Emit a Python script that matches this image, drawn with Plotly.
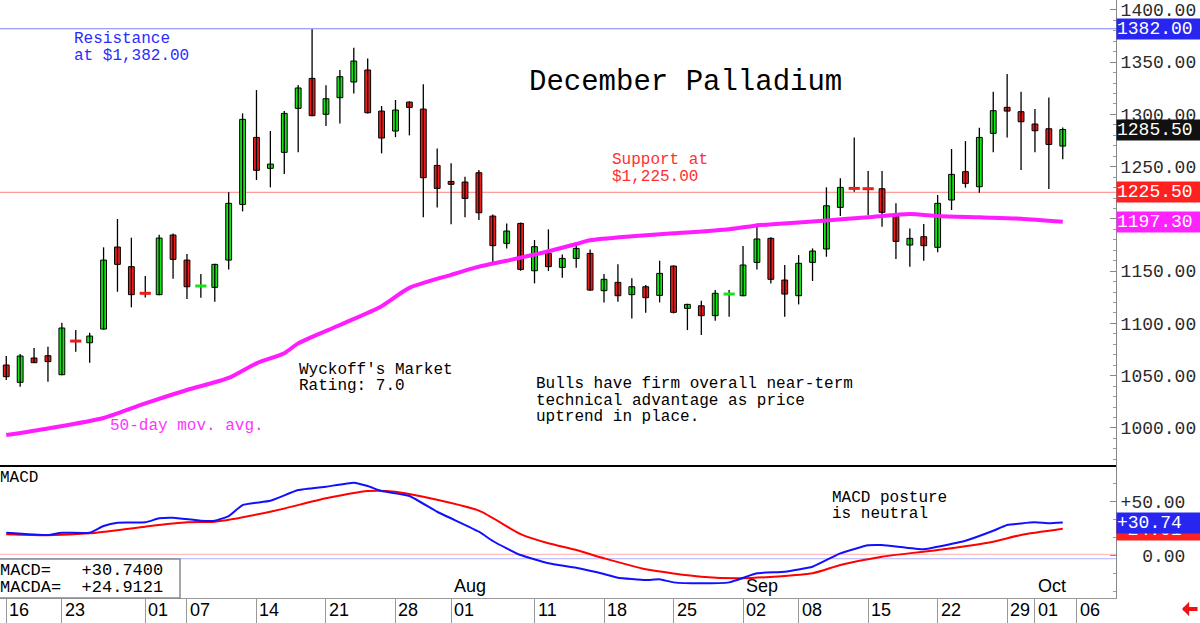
import plotly.graph_objects as go

# ---------------- data ----------------
dates = [
    "2025-06-16", "2025-06-17", "2025-06-18", "2025-06-20", "2025-06-23", "2025-06-24", "2025-06-25",
    "2025-06-26", "2025-06-27", "2025-06-30", "2025-07-01", "2025-07-02", "2025-07-03", "2025-07-07",
    "2025-07-08", "2025-07-09", "2025-07-10", "2025-07-11", "2025-07-14", "2025-07-15", "2025-07-16",
    "2025-07-17", "2025-07-18", "2025-07-21", "2025-07-22", "2025-07-23", "2025-07-24", "2025-07-25",
    "2025-07-28", "2025-07-29", "2025-07-30", "2025-07-31", "2025-08-01", "2025-08-04", "2025-08-05",
    "2025-08-06", "2025-08-07", "2025-08-08", "2025-08-11", "2025-08-12", "2025-08-13", "2025-08-14",
    "2025-08-15", "2025-08-18", "2025-08-19", "2025-08-20", "2025-08-21", "2025-08-22", "2025-08-25",
    "2025-08-26", "2025-08-27", "2025-08-28", "2025-08-29", "2025-09-02", "2025-09-03", "2025-09-04",
    "2025-09-05", "2025-09-08", "2025-09-09", "2025-09-10", "2025-09-11", "2025-09-12", "2025-09-15",
    "2025-09-16", "2025-09-17", "2025-09-18", "2025-09-19", "2025-09-22", "2025-09-23", "2025-09-24",
    "2025-09-25", "2025-09-26", "2025-09-29", "2025-09-30", "2025-10-01", "2025-10-02", "2025-10-03",
]
future_dates = ["2025-10-06"]

opens = [1060.2, 1043.6, 1066.9, 1069.1, 1050.9, 1083.1, 1081.5, 1094.6, 1173.1, 1154.3,
         1128.8, 1127.5, 1184.6, 1160.6, 1135.8, 1134.5, 1160.6, 1213.9, 1278.0, 1248.4,
         1263.7, 1305.8, 1334.5, 1300.1, 1316.0, 1331.0, 1342.5, 1303.2, 1284.1, 1311.8,
         1305.1, 1251.2, 1235.9, 1235.3, 1244.2, 1202.7, 1176.6, 1195.7, 1150.4, 1167.0,
         1153.6, 1162.2, 1167.0, 1131.3, 1139.3, 1127.5, 1135.1, 1126.8, 1154.9, 1114.4,
         1116.9, 1107.4, 1128.1, 1126.5, 1158.4, 1181.4, 1141.5, 1126.5, 1158.4, 1171.2,
         1211.0, 1229.2, 1228.9, 1228.9, 1202.7, 1175.0, 1183.0, 1172.8, 1218.1, 1245.2,
         1230.8, 1281.9, 1306.8, 1302.6, 1290.8, 1286.3, 1269.7]
highs = [1068.8, 1070.7, 1076.4, 1077.7, 1100.7, 1093.7, 1091.1, 1172.8, 1199.9, 1182.0,
         1145.3, 1184.9, 1186.0, 1166.4, 1147.2, 1157.0, 1225.4, 1301.0, 1323.3, 1284.1,
         1303.2, 1328.1, 1381.4, 1327.8, 1342.5, 1363.9, 1353.6, 1308.0, 1313.8, 1312.5,
         1328.8, 1267.5, 1253.2, 1240.4, 1246.8, 1204.3, 1195.7, 1196.5, 1179.8, 1190.0,
         1166.0, 1175.0, 1170.8, 1147.3, 1156.5, 1143.1, 1136.7, 1160.0, 1155.5, 1118.8,
         1121.7, 1131.9, 1131.9, 1174.0, 1195.7, 1182.4, 1155.9, 1165.4, 1171.8, 1230.2,
         1238.8, 1278.0, 1245.8, 1245.8, 1214.9, 1190.9, 1195.1, 1222.8, 1266.9, 1274.5,
         1287.3, 1321.7, 1338.6, 1321.7, 1305.1, 1316.3, 1287.6]
lows = [1045.8, 1039.4, 1062.0, 1044.2, 1050.5, 1072.9, 1062.4, 1094.2, 1130.3, 1115.4,
        1124.9, 1127.0, 1142.8, 1123.3, 1124.6, 1120.8, 1151.7, 1207.2, 1237.2, 1230.2,
        1243.0, 1263.7, 1298.3, 1288.9, 1291.4, 1320.1, 1301.0, 1262.7, 1278.3, 1279.9,
        1201.5, 1211.0, 1194.8, 1201.5, 1198.9, 1157.5, 1171.8, 1150.4, 1138.3, 1150.1,
        1143.8, 1153.3, 1131.3, 1120.1, 1120.8, 1104.8, 1110.2, 1120.1, 1109.6, 1093.6,
        1088.9, 1102.6, 1106.4, 1126.0, 1151.7, 1138.3, 1106.4, 1118.2, 1140.6, 1163.8,
        1202.7, 1226.0, 1203.7, 1192.5, 1161.6, 1154.3, 1160.0, 1168.0, 1208.5, 1229.9,
        1225.1, 1263.7, 1278.0, 1246.8, 1263.7, 1228.6, 1257.0]
closes = [1049.0, 1068.8, 1062.4, 1063.4, 1095.6, 1083.1, 1087.9, 1160.6, 1156.5, 1127.5,
          1128.8, 1181.7, 1161.3, 1135.1, 1135.8, 1156.5, 1214.9, 1295.3, 1246.5, 1252.5,
          1301.0, 1325.3, 1298.8, 1315.0, 1336.1, 1351.1, 1301.6, 1277.4, 1304.2, 1306.7,
          1239.4, 1229.2, 1233.1, 1219.6, 1205.9, 1174.4, 1188.4, 1151.7, 1173.4, 1154.3,
          1162.2, 1171.8, 1131.9, 1142.2, 1126.5, 1135.1, 1124.6, 1147.9, 1110.6, 1118.2,
          1107.4, 1128.8, 1128.1, 1155.9, 1180.8, 1142.2, 1128.1, 1157.5, 1169.3, 1212.6,
          1230.2, 1229.2, 1228.9, 1206.3, 1178.5, 1181.4, 1174.4, 1214.9, 1242.6, 1234.0,
          1278.0, 1303.6, 1303.2, 1293.0, 1284.4, 1271.3, 1285.5]
# colour of the flat (doji) sessions: True = up day
doji_up = {5: False, 10: False, 14: True, 52: True, 61: False, 62: False}

# 50-day moving average, read at selected sessions (index into dates)
ma_idx = [0, 3, 7, 10, 13, 16, 18, 20, 21, 24, 27, 29, 32, 34, 36, 39, 41, 42, 45, 48,
          52, 54, 57, 59, 62, 65, 67, 70, 73, 76]
ma_val = [993.2, 999.5, 1009.5, 1023.5, 1036.3, 1047.8, 1061.8, 1071.5, 1080.9, 1098.5,
          1116.5, 1134.0, 1146.5, 1154.3, 1160.0, 1169.0, 1176.0, 1179.5, 1183.3, 1186.2,
          1190.2, 1193.8, 1196.6, 1198.5, 1201.6, 1204.7, 1202.8, 1201.5, 1200.2, 1197.3]

# MACD (blue) and its average (red), read at selected sessions
macd_idx = [0, 3, 4, 6, 7, 8, 10, 11, 12, 14, 15, 16, 17, 19, 21, 23, 25, 26, 27, 29,
            31, 34, 35, 36, 37, 39, 41, 43, 44, 46, 47, 48, 50, 52, 54, 56, 58, 60, 62, 63,
            66, 67, 69, 71, 72, 74, 75, 76]
macd_val = [21.3, 19.2, 21.3, 21.3, 27.5, 30.6, 30.9, 34.6, 35.2, 32.4, 32.4, 36.7, 46.9,
            50.9, 60.8, 63.9, 67.6, 64.5, 59.9, 55.3, 40.7, 22.2, 13.6, 6.8, 0.6, -7.0,
            -11.1, -16.9, -20.4, -22.5, -21.9, -24.7, -25.6, -24.7, -16.3, -14.8, -10.2,
            2.2, 9.6, 9.9, 5.9, 8.3, 13.9, 23.1, 28.4, 30.9, 30.0, 30.74]
sig_idx = [0, 3, 6, 10, 13, 15, 19, 23, 26, 28, 30, 34, 37, 39, 41, 43, 46, 50, 53, 58,
           60, 63, 67, 71, 73, 76]
sig_val = [19.8, 18.9, 20.7, 26.9, 30.9, 31.5, 40.7, 53.1, 59.9, 59.3, 54.6, 41.7, 20.0,
           11.5, 5.3, -2.4, -12.6, -19.4, -20.9, -16.3, -8.6, -0.9, 5.3, 13.0, 19.2, 24.91]

RESISTANCE = 1382.00
SUPPORT = 1225.50
LAST_CLOSE = 1285.50
MA_LAST = 1197.30
MACD_LAST = 30.7400
MACDA_LAST = 24.9121
MACD_REF_LINES = [1.3, -2.8]

price_ticks = [1000, 1050, 1100, 1150, 1200, 1250, 1300, 1350, 1400]
# 1200.00 sits completely under the moving-average price box in the reference
price_tick_text = ["1000.00", "1050.00", "1100.00", "1150.00", "", "1250.00", "1300.00",
                   "1350.00", "1400.00"]
macd_ticks = [0, 50]
macd_tick_text = ["\u00a0\u00a00.00", "+50.00"]
date_tick_dates = ["2025-06-16", "2025-06-23", "2025-07-01", "2025-07-07", "2025-07-14",
                   "2025-07-21", "2025-07-28", "2025-08-01", "2025-08-11", "2025-08-18",
                   "2025-08-25", "2025-09-02", "2025-09-08", "2025-09-15", "2025-09-22",
                   "2025-09-29", "2025-10-01", "2025-10-06"]
date_tick_text = ["16", "23", "01", "07", "14", "21", "28", "01", "11", "18", "25", "02",
                  "08", "15", "22", "29", "01", "06"]
month_dates = ["2025-08-01", "2025-09-02", "2025-10-01"]
month_text = ["Aug", "Sep", "Oct"]

# ---------------- figure ----------------
W, H = 1200, 623
MONO = "Liberation Mono"
SANS = "Liberation Sans"
GREEN = "#14e614"
RED = "#ec1c1c"
all_dates = dates + future_dates


def pos(d):
    return all_dates.index(d)


def PX(x):
    return x / W


def PY(y):
    return 1 - y / H


X_DOM = [0, PX(1116)]
Y_MAIN = [PY(466), 1]
Y_MACD = [PY(598), PY(466)]
X_RANGE = [-0.45, 79.83]

idx = list(range(len(dates)))
fig = go.Figure()

# wicks
wx, wy = [], []
for i in idx:
    wx += [i, i, None]
    wy += [lows[i], highs[i], None]
fig.add_trace(go.Scatter(x=wx, y=wy, mode="lines", line=dict(color="black", width=1.3),
                         hoverinfo="skip", showlegend=False, xaxis="x", yaxis="y"))

# bodies
bx, bh, bb, bc = [], [], [], []
for i in idx:
    if i in doji_up:
        continue
    o, c = opens[i], closes[i]
    bx.append(i)
    bh.append(abs(c - o))
    bb.append(min(o, c))
    bc.append(GREEN if c >= o else RED)
fig.add_trace(go.Bar(x=bx, y=bh, base=bb, width=0.42, marker=dict(color=bc, line=dict(color="black", width=1)),
                     hoverinfo="skip", showlegend=False, xaxis="x", yaxis="y"))

# dojis
dx = list(doji_up.keys())
fig.add_trace(go.Scatter(x=dx, y=[closes[i] for i in dx], mode="markers",
                         marker=dict(symbol="line-ew", size=8,
                                     line=dict(width=3, color=[GREEN if doji_up[i] else RED for i in dx])),
                         hoverinfo="skip", showlegend=False, xaxis="x", yaxis="y"))

# moving average
fig.add_trace(go.Scatter(x=ma_idx, y=ma_val, mode="lines",
                         line=dict(color="#ff1cff", width=4, shape="spline", smoothing=0.7),
                         hoverinfo="skip", showlegend=False, xaxis="x", yaxis="y"))

# MACD panel
fig.add_trace(go.Scatter(x=sig_idx, y=sig_val, mode="lines",
                         line=dict(color="#ff0000", width=2, shape="spline", smoothing=0.6),
                         hoverinfo="skip", showlegend=False, xaxis="x2", yaxis="y2"))
fig.add_trace(go.Scatter(x=macd_idx, y=macd_val, mode="lines",
                         line=dict(color="#1010ff", width=2, shape="spline", smoothing=0.4),
                         hoverinfo="skip", showlegend=False, xaxis="x2", yaxis="y2"))

shapes = []
# resistance / support lines
shapes.append(dict(type="line", xref="paper", yref="y", x0=0, x1=X_DOM[1], y0=RESISTANCE, y1=RESISTANCE,
                   line=dict(color="#8080ff", width=1), layer="below"))
shapes.append(dict(type="line", xref="paper", yref="y", x0=0, x1=X_DOM[1], y0=SUPPORT, y1=SUPPORT,
                   line=dict(color="#ff8080", width=1), layer="below"))
# MACD reference lines
shapes.append(dict(type="line", xref="paper", yref="y2", x0=0, x1=X_DOM[1], y0=MACD_REF_LINES[0], y1=MACD_REF_LINES[0],
                   line=dict(color="#ffb0b0", width=1), layer="below"))
shapes.append(dict(type="line", xref="paper", yref="y2", x0=0, x1=X_DOM[1], y0=MACD_REF_LINES[1], y1=MACD_REF_LINES[1],
                   line=dict(color="#b0b0ff", width=1), layer="below"))
# panel separator
shapes.append(dict(type="line", xref="paper", yref="paper", x0=0, x1=X_DOM[1], y0=Y_MAIN[0], y1=Y_MAIN[0],
                   line=dict(color="black", width=2)))
# MACD value box
shapes.append(dict(type="rect", xref="paper", yref="paper", x0=-0.01, x1=PX(180), y0=PY(598), y1=PY(559),
                   line=dict(color="#8a8a8a", width=1.5), fillcolor="white", layer="above"))

ann = []


def lines(x, y_centers, strings, size=16, color="black", family=MONO):
    for yc, s in zip(y_centers, strings):
        ann.append(dict(x=PX(x), y=PY(yc), xref="paper", yref="paper", text=s, showarrow=False,
                        xanchor="left", yanchor="middle", align="left",
                        font=dict(family=family, size=size, color=color)))


lines(527, [82], ["December Palladium"], size=29)
lines(72, [39, 56], ["Resistance", "at $1,382.00"], color="#2b2bff")
lines(610, [160, 177], ["Support at", "$1,225.00"], color="#ff3030")
lines(297, [369.5, 385.5], ["Wyckoff's Market", "Rating: 7.0"])
lines(534, [384, 400.5, 417], ["Bulls have firm overall near-term", "technical advantage as price",
                               "uptrend in place."])
lines(108, [426], ["50-day mov. avg."], color="#ff33ff")
lines(830, [497.5, 514], ["MACD posture", "is neutral"])
lines(-2, [478], ["MACD"])
lines(-2, [570, 587], ["MACD=\u00a0\u00a0\u00a0%+.4f" % MACD_LAST, "MACDA=\u00a0\u00a0%+.4f" % MACDA_LAST], size=17)

# date labels along the bottom axis
for d, t in zip(date_tick_dates, date_tick_text):
    ann.append(dict(x=pos(d), y=PY(610), xref="x2", yref="paper", text=t, showarrow=False,
                    xanchor="left", yanchor="middle", xshift=1,
                    font=dict(family=SANS, size=18, color="black")))
for d, t in zip(month_dates, month_text):
    ann.append(dict(x=pos(d), y=PY(586), xref="x2", yref="paper", text=t, showarrow=False,
                    xanchor="left", yanchor="middle", xshift=1,
                    font=dict(family=SANS, size=18, color="black")))


def price_box(val, label, bg, yref="y", yshift=0):
    ann.append(dict(x=X_DOM[1], y=val, xref="paper", yref=yref, text=label, showarrow=False,
                    xanchor="left", yanchor="middle", align="left", width=84, height=20,
                    bgcolor=bg, borderpad=0, yshift=yshift,
                    font=dict(family=MONO, size=18, color="white")))


price_box(RESISTANCE, "%.2f" % RESISTANCE, "#2626f0")
price_box(LAST_CLOSE, "%.2f" % LAST_CLOSE, "#111111")
price_box(SUPPORT, "%.2f" % SUPPORT, "#ff2020")
price_box(MA_LAST, "%.2f" % MA_LAST, "#ff22ff")
price_box(MACDA_LAST, "%+.2f" % MACDA_LAST, "#ff2020", yref="y2", yshift=-1)
price_box(MACD_LAST, "%+.2f" % MACD_LAST, "#2626f0", yref="y2")

# little red arrow at the bottom right
ann.append(dict(x=PX(1182), y=PY(609), xref="paper", yref="paper", ax=17, ay=0, text="",
                showarrow=True, arrowhead=1, arrowsize=0.6, arrowwidth=4, arrowcolor="#ee1111"))

axis_font = dict(family=MONO, size=18, color="#2a2a2a")
fig.update_layout(
    width=W, height=H,
    margin=dict(l=0, r=0, t=0, b=0),
    paper_bgcolor="white", plot_bgcolor="white",
    barmode="overlay", showlegend=False, hovermode=False,
    shapes=shapes, annotations=ann,
    xaxis=dict(domain=X_DOM, range=X_RANGE, anchor="y", visible=False, showgrid=False, zeroline=False),
    yaxis=dict(domain=Y_MAIN, range=[963.54, 1409.5], anchor="x", side="right",
               tickvals=price_ticks, ticktext=price_tick_text, ticks="inside", ticklen=6, tickcolor="#888",
               showline=True, linecolor="#888", linewidth=1, showgrid=False, zeroline=False,
               tickfont=axis_font,
               minor=dict(dtick=10, ticks="inside", ticklen=3, tickcolor="#999", showgrid=False)),
    xaxis2=dict(domain=X_DOM, range=X_RANGE, anchor="y2", showgrid=False, zeroline=False,
                showline=True, linecolor="#999", linewidth=1,
                tickvals=[pos(d) for d in date_tick_dates], ticks="outside", ticklen=26,
                tickcolor="#999", showticklabels=False),
    yaxis2=dict(domain=Y_MACD, range=[-39.17, 83.06], anchor="x2", side="right",
                tickvals=macd_ticks, ticktext=macd_tick_text, ticks="inside", ticklen=6, tickcolor="#888",
                showline=True, linecolor="#888", linewidth=1, showgrid=False, zeroline=False,
                tickfont=axis_font,
                minor=dict(dtick=50 / 3, ticks="inside", ticklen=3, tickcolor="#999", showgrid=False)),
)

fig.write_html("out.html")
